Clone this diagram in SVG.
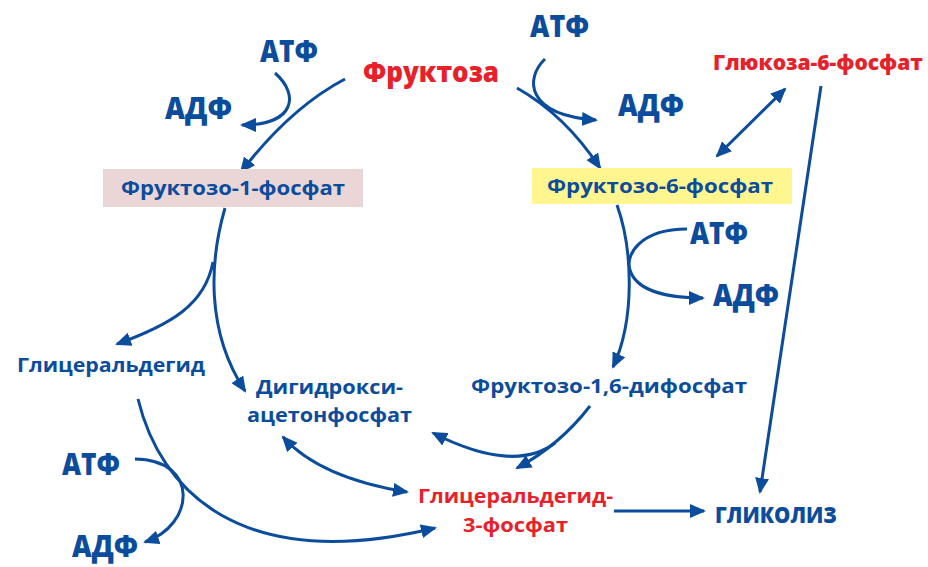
<svg xmlns="http://www.w3.org/2000/svg" width="928" height="567" viewBox="0 0 928 567">
<defs>
<style>
text{font-family:"Open Sans","Noto Sans","DejaVu Sans",sans-serif;font-weight:800}
.b{fill:#0b4c9c}
.r{fill:#e8202a}
.big{font-size:30px}
.mid{font-size:20px;font-weight:700}
.c{fill:none;stroke:#0b4c9c;stroke-width:3}
.a{marker-end:url(#ah)}
.d{marker-start:url(#ah);marker-end:url(#ah)}
</style>
<marker id="ah" viewBox="0 0 16 14" markerWidth="16" markerHeight="14" refX="14" refY="7" orient="auto-start-reverse" markerUnits="userSpaceOnUse">
<path d="M0,0 L16,7 L0,14 z" fill="#0b4c9c"/>
</marker>
</defs>
<rect width="928" height="567" fill="#fff"/>
<g id="connectors">
<path class="c a" d="M345,79 Q290,108 241,172"/>
<path class="c a" d="M275,73 C300,95 295,125 242,125"/>
<path class="c a" d="M517,88 Q565,115 600,168"/>
<path class="c a" d="M545,59 C525,78 525,115 596,120"/>
<path class="c d" d="M717,156 L785,89"/>
<path class="c a" d="M821,86 L760,492"/>
<path class="c a" d="M617,205 C633,250 635,320 613,367"/>
<path class="c a" d="M687,229 C640,229 625,255 630,270 C636,290 665,298 703,298"/>
<path class="c a" d="M590,406 Q560,445 517,468"/>
<path class="c a" d="M555,443 C530,462 490,462 433,433"/>
<path class="c a" d="M225,208 C210,260 205,330 245,391"/>
<path class="c a" d="M213,262 C205,305 170,325 117,344"/>
<path class="c a" d="M138,399 C160,490 240,575 435,528"/>
<path class="c a" d="M135,459 C200,460 195,525 145,542"/>
<path class="c d" d="M283,437 Q320,478 407,492"/>
<path class="c a" d="M614,511 L704,511"/>
</g>
<g id="fructose"><text class="r" x="363" y="82" font-size="28" textLength="136" lengthAdjust="spacingAndGlyphs">Фруктоза</text></g>
<g id="atp1"><text class="b big" x="260" y="62" textLength="58" lengthAdjust="spacingAndGlyphs">АТФ</text></g>
<g id="adp1"><text class="b big" x="165" y="119" textLength="67" lengthAdjust="spacingAndGlyphs">АДФ</text></g>
<g id="atp2"><text class="b big" x="530" y="37" textLength="59" lengthAdjust="spacingAndGlyphs">АТФ</text></g>
<g id="adp2"><text class="b big" x="618" y="116" textLength="66" lengthAdjust="spacingAndGlyphs">АДФ</text></g>
<g id="g6p"><text class="r" x="713" y="70" font-size="21" textLength="210" lengthAdjust="spacingAndGlyphs">Глюкоза-6-фосфат</text></g>
<g id="f1p"><rect x="103" y="169" width="260" height="38" fill="#ead5d7"/><text class="b mid" x="121" y="195" textLength="224" lengthAdjust="spacingAndGlyphs">Фруктозо-1-фосфат</text></g>
<g id="f6p"><rect x="532" y="168" width="260" height="36" fill="#fff68f"/><text class="b mid" x="547" y="193" textLength="226" lengthAdjust="spacingAndGlyphs">Фруктозо-6-фосфат</text></g>
<g id="atp3"><text class="b big" x="690" y="244" textLength="58" lengthAdjust="spacingAndGlyphs">АТФ</text></g>
<g id="adp3"><text class="b big" x="713" y="306" textLength="66" lengthAdjust="spacingAndGlyphs">АДФ</text></g>
<g id="f16dp"><text class="b mid" x="471" y="393" textLength="276" lengthAdjust="spacingAndGlyphs">Фруктозо-1,6-дифосфат</text></g>
<g id="glyceraldehyde"><text class="b mid" x="17" y="372" textLength="188" lengthAdjust="spacingAndGlyphs">Глицеральдегид</text></g>
<g id="dhap"><text class="b mid" x="256" y="394" textLength="147" lengthAdjust="spacingAndGlyphs">Дигидрокси-</text><text class="b mid" x="247" y="422" textLength="165" lengthAdjust="spacingAndGlyphs">ацетонфосфат</text></g>
<g id="g3p"><text class="r mid" x="418" y="503" textLength="195" lengthAdjust="spacingAndGlyphs">Глицеральдегид-</text><text class="r mid" x="463" y="532" textLength="105" lengthAdjust="spacingAndGlyphs">3-фосфат</text></g>
<g id="glycolysis"><text class="b" x="715" y="523" font-size="22" font-weight="700" textLength="122" lengthAdjust="spacingAndGlyphs">ГЛИКОЛИЗ</text></g>
<g id="atp4"><text class="b big" x="62" y="475" textLength="58" lengthAdjust="spacingAndGlyphs">АТФ</text></g>
<g id="adp4"><text class="b big" x="72" y="557" textLength="66" lengthAdjust="spacingAndGlyphs">АДФ</text></g>
</svg>
